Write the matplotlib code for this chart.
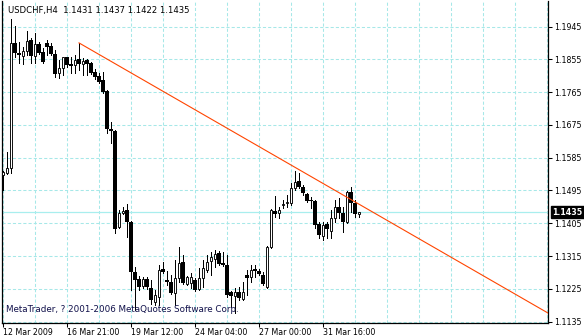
import numpy as np
import matplotlib.pyplot as plt
from matplotlib.patches import Rectangle
import matplotlib.transforms as mtransforms

# USDCHF H4 bars (open, high, low, close)
opens = [1.1537, 1.1543, 1.1557, 1.1900, 1.1872, 1.1864, 1.1878, 1.1908, 1.1864, 1.1897,
         1.1875, 1.1900, 1.1892, 1.1870, 1.1817, 1.1831, 1.1861, 1.1842, 1.1840, 1.1856,
         1.1842, 1.1853, 1.1845, 1.1820, 1.1809, 1.1798, 1.1768, 1.1664, 1.1658, 1.1395,
         1.1433, 1.1441, 1.1408, 1.1272, 1.1252, 1.1233, 1.1252, 1.1227, 1.1189, 1.1203,
         1.1280, 1.1250, 1.1244, 1.1214, 1.1255, 1.1299, 1.1239, 1.1241, 1.1250, 1.1225,
         1.1255, 1.1277, 1.1302, 1.1307, 1.1324, 1.1296, 1.1291, 1.1216, 1.1205, 1.1216,
         1.1197, 1.1263, 1.1258, 1.1280, 1.1274, 1.1263, 1.1230, 1.1340, 1.1439, 1.1433,
         1.1455, 1.1461, 1.1461, 1.1502, 1.1521, 1.1505, 1.1485, 1.1469, 1.1466, 1.1403,
         1.1370, 1.1403, 1.1384, 1.1419, 1.1450, 1.1433, 1.1408, 1.1491, 1.1461, 1.1431]
highs = [1.1548, 1.1601, 1.1966, 1.1946, 1.1902, 1.1889, 1.1933, 1.1913, 1.1927, 1.1902,
         1.1886, 1.1908, 1.1900, 1.1880, 1.1853, 1.1862, 1.1862, 1.1861, 1.1867, 1.1900,
         1.1859, 1.1856, 1.1848, 1.1828, 1.1817, 1.1820, 1.1771, 1.1683, 1.1661, 1.1441,
         1.1450, 1.1458, 1.1411, 1.1285, 1.1261, 1.1258, 1.1258, 1.1250, 1.1222, 1.1291,
         1.1299, 1.1274, 1.1263, 1.1304, 1.1340, 1.1318, 1.1261, 1.1269, 1.1255, 1.1283,
         1.1304, 1.1318, 1.1326, 1.1332, 1.1329, 1.1326, 1.1318, 1.1218, 1.1227, 1.1230,
         1.1244, 1.1277, 1.1291, 1.1291, 1.1280, 1.1272, 1.1342, 1.1443, 1.1480, 1.1450,
         1.1469, 1.1483, 1.1515, 1.1548, 1.1543, 1.1510, 1.1488, 1.1477, 1.1469, 1.1408,
         1.1408, 1.1408, 1.1441, 1.1469, 1.1474, 1.1450, 1.1494, 1.1505, 1.1469, 1.1437]
lows = [1.1496, 1.1540, 1.1543, 1.1861, 1.1845, 1.1842, 1.1867, 1.1845, 1.1845, 1.1870,
        1.1845, 1.1867, 1.1867, 1.1806, 1.1804, 1.1812, 1.1834, 1.1817, 1.1817, 1.1826,
        1.1812, 1.1812, 1.1815, 1.1801, 1.1790, 1.1762, 1.1653, 1.1625, 1.1378, 1.1393,
        1.1430, 1.1367, 1.1222, 1.1167, 1.1222, 1.1228, 1.1225, 1.1184, 1.1181, 1.1181,
        1.1269, 1.1236, 1.1211, 1.1181, 1.1244, 1.1239, 1.1236, 1.1227, 1.1219, 1.1222,
        1.1230, 1.1272, 1.1263, 1.1285, 1.1291, 1.1289, 1.1203, 1.1175, 1.1159, 1.1194,
        1.1195, 1.1208, 1.1244, 1.1258, 1.1263, 1.1236, 1.1227, 1.1337, 1.1422, 1.1419,
        1.1447, 1.1450, 1.1455, 1.1496, 1.1502, 1.1483, 1.1463, 1.1447, 1.1392, 1.1365,
        1.1359, 1.1365, 1.1365, 1.1408, 1.1419, 1.1381, 1.1406, 1.1436, 1.1422, 1.1422]
closes = [1.1546, 1.1557, 1.1900, 1.1872, 1.1867, 1.1878, 1.1905, 1.1864, 1.1897, 1.1872,
          1.1848, 1.1889, 1.1870, 1.1815, 1.1831, 1.1861, 1.1840, 1.1837, 1.1853, 1.1842,
          1.1850, 1.1842, 1.1817, 1.1806, 1.1793, 1.1765, 1.1664, 1.1658, 1.1389, 1.1433,
          1.1439, 1.1408, 1.1272, 1.1250, 1.1230, 1.1252, 1.1230, 1.1194, 1.1208, 1.1277,
          1.1272, 1.1244, 1.1214, 1.1255, 1.1296, 1.1241, 1.1258, 1.1258, 1.1222, 1.1255,
          1.1283, 1.1299, 1.1313, 1.1321, 1.1294, 1.1291, 1.1208, 1.1205, 1.1216, 1.1200,
          1.1216, 1.1255, 1.1277, 1.1274, 1.1266, 1.1239, 1.1340, 1.1441, 1.1430, 1.1441,
          1.1458, 1.1463, 1.1502, 1.1518, 1.1505, 1.1488, 1.1466, 1.1466, 1.1400, 1.1373,
          1.1400, 1.1389, 1.1419, 1.1450, 1.1433, 1.1408, 1.1491, 1.1461, 1.1430, 1.1435]

date_ticks = [0, 16, 32, 48, 64, 80]
date_labels = ['12 Mar 2009', '16 Mar 21:00', '19 Mar 12:00',
               '24 Mar 04:00', '27 Mar 00:00', '31 Mar 16:00']
price_ticks = [1.1135, 1.1225, 1.1315, 1.1405, 1.1495,
               1.1585, 1.1675, 1.1765, 1.1855, 1.1945]
last_price = 1.1435
trend_x = [19, 137]
trend_y = [1.1900, 1.1154]

title = 'USDCHF,H4  1.1431 1.1437 1.1422 1.1435'
copyright_txt = 'MetaTrader, ? 2001-2006 MetaQuotes Software Corp.'

grid_col = '#a6e8e8'
fs = 5.7

fig = plt.figure(figsize=(5.84, 3.36), dpi=100)
W, H = 584, 336
ax = fig.add_axes([2 / W, 1 - 323 / H, 546 / W, 322 / H])
ax.set_xlim(-0.25, 136.25)
ax.set_ylim(1.11314, 1.20150)

# grid
ax.set_xticks(date_ticks)
ax.set_xticks(np.arange(8, 137, 8), minor=True)
ax.set_yticks(price_ticks)
ax.grid(True, which='both', axis='x', color=grid_col, lw=0.75, ls=(0, (3, 2)), zorder=0)
ax.grid(True, which='major', axis='y', color=grid_col, lw=0.75, ls=(0, (3, 2)), zorder=0)
ax.set_axisbelow(True)

# current price line
ax.axhline(last_price, color='#a8eeee', lw=0.9, zorder=1)

# candles
for i in range(len(opens)):
    o, h, l, c = opens[i], highs[i], lows[i], closes[i]
    ax.vlines(i, l, h, color='black', lw=0.7, zorder=2, antialiased=False)
    bottom = min(o, c)
    height = max(abs(c - o), 0.00003)
    if c >= o:
        ax.add_patch(Rectangle((i - 0.25, bottom), 0.5, height, facecolor='white',
                               edgecolor='black', lw=0.65, zorder=3))
    else:
        ax.add_patch(Rectangle((i - 0.4, bottom), 0.8, height, facecolor='black',
                               edgecolor='none', lw=0, zorder=3))

# trend line
ax.plot(trend_x, trend_y, color='#ff4500', lw=0.8, zorder=4)

# axes styling
ax.spines['top'].set_visible(False)
for s in ['left', 'bottom', 'right']:
    ax.spines[s].set_linewidth(0.9)
    ax.spines[s].set_color('black')
ax.yaxis.tick_right()
ax.tick_params(axis='y', which='major', direction='out', length=3, width=0.75,
               pad=1.5, labelsize=fs, colors='black')
ax.tick_params(axis='x', which='major', direction='out', length=3, width=0.75,
               pad=0.5, labelsize=fs, colors='black')
ax.tick_params(axis='x', which='minor', length=0)
ax.set_yticklabels(['%.4f' % v for v in price_ticks])
ax.set_xticklabels(date_labels, ha='left')

# price tag
trans = mtransforms.blended_transform_factory(ax.transAxes, ax.transData)
ax.text(1.0075, last_price, '%.4f' % last_price, transform=trans, fontsize=fs,
        color='white', fontweight='bold', va='center', ha='left', clip_on=False,
        bbox=dict(boxstyle='square,pad=0.2', facecolor='black', edgecolor='black'))

fig.text(8 / W, 1 - 10 / H, title, fontsize=6.1, color='black', va='center', ha='left')
fig.text(6 / W, 1 - 310 / H, copyright_txt, fontsize=6.3, color='#10104a', va='center', ha='left')

fig.savefig('out.png', dpi=100, facecolor='white')
